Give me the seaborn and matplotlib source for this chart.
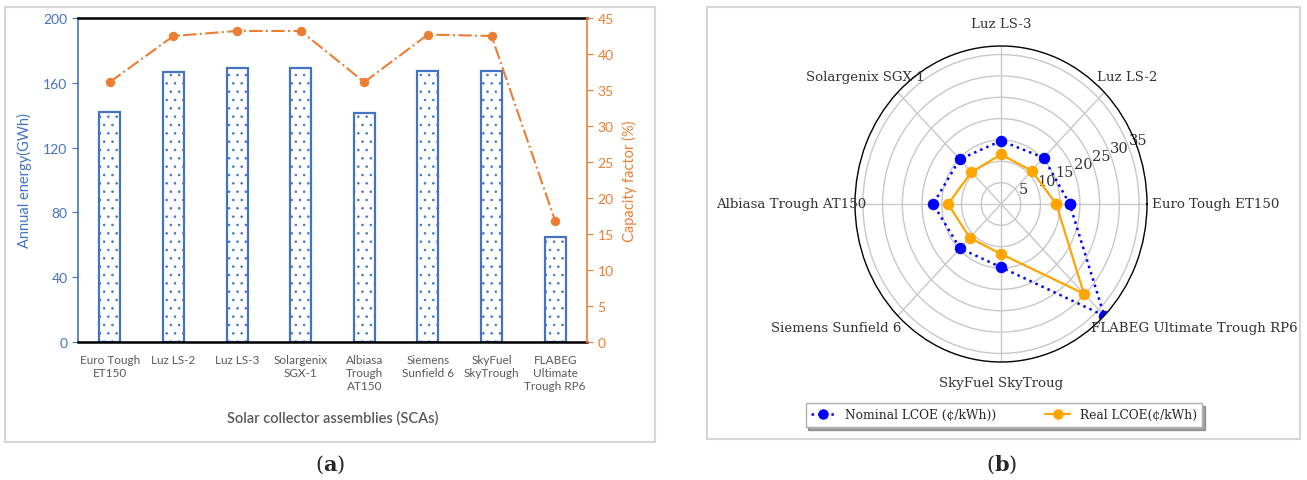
import numpy as np
import pandas as pd
import matplotlib
matplotlib.use("Agg")
import matplotlib.pyplot as plt
import seaborn as sns
from matplotlib.patches import Rectangle

# ---------------- data ----------------
sca_labels = ["Euro Tough\nET150", "Luz LS-2", "Luz LS-3", "Solargenix\nSGX-1",
              "Albiasa\nTrough\nAT150", "Siemens\nSunfield 6", "SkyFuel\nSkyTrough",
              "FLABEG\nUltimate\nTrough RP6"]
annual_energy = [141.9, 166.5, 169.2, 169.2, 141.1, 167.4, 167.4, 65.1]
capacity_factor = [36.1, 42.5, 43.2, 43.2, 36.1, 42.7, 42.5, 16.8]
energy_ticks = [0, 40, 80, 120, 160, 200]
cf_ticks = [0, 5, 10, 15, 20, 25, 30, 35, 40, 45]

radar_labels = ["Euro Tough ET150", "Luz LS-2", "Luz LS-3", "Solargenix SGX-1",
                "Albiasa Trough AT150", "Siemens Sunfield 6", "SkyFuel SkyTroug",
                "FLABEG Ultimate Trough RP6"]
nominal_lcoe = [17.4, 15.3, 14.8, 14.8, 17.2, 14.7, 14.8, 37.0]
real_lcoe = [14.0, 11.0, 11.6, 10.6, 13.4, 11.2, 11.7, 29.7]
r_ticks = [5, 10, 15, 20, 25, 30, 35]

# label anchor positions (axes fraction) and alignment for the radar categories
label_pos = [(1.017, 0.50, "left"), (0.829, 0.905, "left"), (0.50, 1.07, "center"),
             (0.240, 0.905, "right"), (0.040, 0.50, "right"), (0.158, 0.108, "right"),
             (0.50, -0.066, "center"), (0.808, 0.108, "left")]

BLUE = "#4472C4"
ORANGE = "#ED7D31"
GRAY = "#595959"

sns.set_style("white")
plt.rcParams["font.family"] = ["Lato", "DejaVu Sans"]
plt.rcParams["mathtext.fontset"] = "dejavuserif"
plt.rcParams["hatch.linewidth"] = 0.6

fig = plt.figure(figsize=(13.07, 4.81), dpi=100)

# ---------------- panel (a) ----------------
ax1 = fig.add_axes([78 / 1307, 1 - 343 / 481, 509 / 1307, 324 / 481])
df = pd.DataFrame({"sca": sca_labels, "energy": annual_energy, "cf": capacity_factor})
sns.barplot(data=df, x="sca", y="energy", ax=ax1, width=0.33, color="white",
            edgecolor=BLUE, linewidth=1.6, hatch="..", saturation=1)
ax1.set_ylim(0, 200)
ax1.set_xlim(-0.5, 7.5)
ax1.set_yticks(energy_ticks)
ax1.tick_params(axis="y", colors=BLUE, labelsize=10, length=4, direction="out", left=True)
ax1.tick_params(axis="x", colors=GRAY, labelsize=8.5, length=0, pad=9)
ax1.set_ylabel("Annual energy(GWh)", color=BLUE, fontsize=10.5, labelpad=8)
ax1.set_xlabel("Solar collector assemblies (SCAs)", color=GRAY, fontsize=10.5,
               fontweight="semibold", labelpad=14)
for s in ["top", "bottom"]:
    ax1.spines[s].set_color("black")
    ax1.spines[s].set_linewidth(1.8)
ax1.spines["left"].set_color(BLUE)
ax1.spines["left"].set_linewidth(1.2)
ax1.spines["right"].set_visible(False)

ax2 = ax1.twinx()
sns.lineplot(data=df, x="sca", y="cf", ax=ax2, color=ORANGE, marker="o",
             markersize=6, markeredgecolor=ORANGE, linestyle="-.", linewidth=1.5,
             sort=False)
ax2.set_ylim(0, 45)
ax2.set_yticks(cf_ticks)
ax2.tick_params(axis="y", colors=ORANGE, labelsize=10, length=4, direction="out", right=True)
ax2.set_ylabel("Capacity factor (%)", color=ORANGE, fontsize=10.5, labelpad=6)
ax2.set_xlabel("")
for s in ["top", "bottom", "left"]:
    ax2.spines[s].set_visible(False)
ax2.spines["right"].set_color(ORANGE)
ax2.spines["right"].set_linewidth(1.2)

# ---------------- panel (b) ----------------
axp = fig.add_axes([855 / 1307, 1 - 363 / 481, 292 / 1307, 316 / 481], projection="polar")
axp.set_aspect("auto")
theta = np.arange(len(radar_labels)) * 2 * np.pi / len(radar_labels)
theta_c = np.append(theta, 2 * np.pi)
nom_c = np.append(nominal_lcoe, nominal_lcoe[0])
real_c = np.append(real_lcoe, real_lcoe[0])
sns.lineplot(x=theta_c, y=nom_c, ax=axp, sort=False, color="blue", linestyle=":",
             linewidth=1.8, marker="o", markersize=7.5, markeredgecolor="blue",
             label="Nominal LCOE (¢/kWh))")
sns.lineplot(x=theta_c, y=real_c, ax=axp, sort=False, color="orange", linestyle="-",
             linewidth=1.6, marker="o", markersize=7.5, markeredgecolor="orange",
             label="Real LCOE(¢/kWh)")
axp.set_ylim(0, max(nominal_lcoe))
axp.set_xticks(theta)
axp.set_xticklabels([])
for lab, (px, py, ha) in zip(radar_labels, label_pos):
    axp.text(px, py, lab, transform=axp.transAxes, ha=ha, va="center",
             fontfamily="DejaVu Serif", fontsize=9.6, color="#333333")
axp.set_yticks(r_ticks)
axp.set_yticklabels([str(v) for v in r_ticks], fontfamily="DejaVu Serif", fontsize=10.5,
                    color="#333333")
axp.set_rlabel_position(22.5)
axp.grid(True, color="#c8c8c8", linewidth=1)
axp.spines["polar"].set_color("black")
axp.spines["polar"].set_linewidth(1)
axp.set_xlabel("")
axp.set_ylabel("")
axp.legend(loc="upper center", bbox_to_anchor=(0.51, -0.11), ncol=2, shadow=True,
           fancybox=False, edgecolor="#b0b0b0", framealpha=1,
           prop={"family": "DejaVu Serif", "size": 8.8}, handlelength=2.0,
           columnspacing=4.0, markerscale=0.9, borderpad=0.45)

# ---------------- frames and captions ----------------
fig.patches.append(Rectangle((5 / 1307, 1 - 443 / 481), 650 / 1307, 435 / 481,
                             transform=fig.transFigure, fill=False,
                             edgecolor="#d6d6d6", linewidth=1.5))
fig.patches.append(Rectangle((707 / 1307, 1 - 440 / 481), 593 / 1307, 432 / 481,
                             transform=fig.transFigure, fill=False,
                             edgecolor="#d6d6d6", linewidth=1.5))
fig.text(330 / 1307, 1 - 465 / 481, r"($\mathbf{a}$)", ha="center", va="center",
         fontsize=15, fontfamily="DejaVu Serif")
fig.text(1002 / 1307, 1 - 465 / 481, r"($\mathbf{b}$)", ha="center", va="center",
         fontsize=15, fontfamily="DejaVu Serif")

fig.savefig("out.png", dpi=100)
